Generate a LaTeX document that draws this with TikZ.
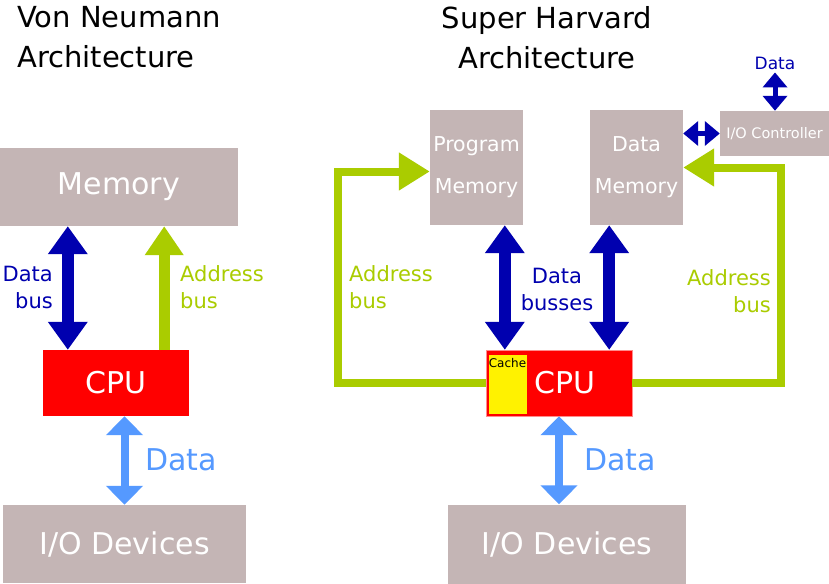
\documentclass[tikz,border=0pt]{standalone}
\usepackage{fontspec}
\setmainfont{DejaVu Sans}
\usetikzlibrary{arrows.meta}

\definecolor{boxgray}{RGB}{196,181,181}
\definecolor{busblue}{RGB}{0,0,175}
\definecolor{busgreen}{RGB}{170,204,0}
\definecolor{iolight}{RGB}{85,153,255}

\begin{document}
\begin{tikzpicture}[x=1pt, y=-1pt,
    title/.style = {inner sep=0pt, font=\fontsize{29}{40}\selectfont},
    box/.style = {fill=boxgray, inner sep=0pt, text=white, font=\fontsize{30}{36}\selectfont},
    smallbox/.style = {box, align=center, font=\fontsize{20.5}{42}\selectfont},
    cpubox/.style = {fill=red, inner sep=0pt, text=white, font=\fontsize{30}{36}\selectfont},
    lbl/.style = {inner sep=0pt, font=\fontsize{21}{27}\selectfont},
    biglbl/.style = {inner sep=0pt, font=\fontsize{30}{36}\selectfont},
    dbus/.style = {busblue, line width=12pt, {Triangle[width=38pt,length=28pt]}-{Triangle[width=38pt,length=28pt]}},
    abus/.style = {busgreen, line width=11pt, -{Triangle[width=37pt,length=29pt]}},
    aroute/.style = {busgreen, line width=8pt, -{Triangle[width=36pt,length=31pt]}},
    iobus/.style = {iolight, line width=8pt, {Triangle[width=36pt,length=19pt]}-{Triangle[width=36pt,length=19pt]}},
    cbus/.style = {busblue, line width=5pt, {Triangle[width=24pt,length=15pt]}-{Triangle[width=24pt,length=15pt]}}]

    \fill[white] (0,0) rectangle (829,583);
    \useasboundingbox (0,0) rectangle (829,583);

    % 1. Titles
    \node[title, anchor=north west, align=left] (vntitle) at (17,6) {Von Neumann\\Architecture};
    \node[title, anchor=north, align=center] (shtitle) at (547,6) {Super Harvard\\Architecture};

    % 2. Von Neumann blocks
    \node[box, minimum width=238, minimum height=78] (mem) at (119,187) {Memory};
    \node[cpubox, minimum width=146, minimum height=66] (cpu) at (116,383) {CPU};
    \node[box, minimum width=243, minimum height=78] (io) at (124.5,544) {I/O Devices};

    % 3. Super Harvard blocks
    \node[smallbox, minimum width=93, minimum height=115] (pmem) at (476.5,167.5) {Program\\Memory};
    \node[smallbox, minimum width=93, minimum height=115] (dmem) at (636.5,167.5) {Data\\Memory};
    \node[box, minimum width=109, minimum height=45, font=\fontsize{14.5}{17}\selectfont] (ioctl) at (774.5,133.5) {I/O Controller};
    \node[cpubox, draw=red!45, minimum width=146, minimum height=66,
          label={[text=white, font=\fontsize{30}{36}\selectfont, xshift=6pt]center:CPU}] (cpu2) at (559,383) {};
    \node[fill=yellow, draw=red, inner sep=0pt, minimum width=39, minimum height=60,
          label={[font=\fontsize{12}{14}\selectfont, anchor=north, yshift=-4pt, inner sep=0pt]north:Cache}] (cache) at (507.5,384) {};
    \node[box, minimum width=238, minimum height=79] (io2) at (567,544) {I/O Devices};

    % 4. Bus labels
    \node[lbl, text=busblue, align=right, anchor=east] (dblbl) at (53,287) {Data\\bus};
    \node[lbl, text=busgreen, align=left, anchor=west] (ablbl) at (180,287) {Address\\bus};
    \node[biglbl, text=iolight, anchor=west] (iolbl) at (145,460) {Data};
    \node[lbl, text=busgreen, align=left, anchor=west] (ablbl2) at (349,287) {Address\\bus};
    \node[lbl, text=busblue, align=center] (dblbl2) at (557,289) {Data\\busses};
    \node[lbl, text=busgreen, align=right, anchor=east] (ablbl3) at (771,291) {Address\\bus};
    \node[biglbl, text=iolight, anchor=west] (iolbl2) at (584,460) {Data};
    \node[inner sep=2pt, text=busblue, font=\fontsize{17}{20}\selectfont, anchor=base] (ctllbl) at (775,70) {Data};

    % 5. Von Neumann buses
    \draw[dbus] ([xshift=25]cpu.north west) -- ([xshift=25]cpu.north west |- mem.south);
    \draw[abus] ([xshift=-25]cpu.north east) -- ([xshift=-25]cpu.north east |- mem.south);
    \draw[iobus] (cpu.south -| io.north) -- (io.north);

    % 6. Super Harvard buses
    \draw[dbus] ([xshift=19]cpu2.north west) -- ([xshift=19]cpu2.north west |- pmem.south);
    \draw[dbus] ([xshift=-23]cpu2.north east) -- ([xshift=-23]cpu2.north east |- dmem.south);
    \draw[aroute] (cpu2.west) -| ([xshift=-92,yshift=-4]pmem.west) |- ([yshift=-4]pmem.west);
    \draw[aroute] (cpu2.east) -| ([xshift=98]dmem.east) |- (dmem.east);
    \draw[iobus] (cpu2.south) -- (cpu2.south |- io2.north);
    \draw[cbus] (ctllbl.south) -- (ctllbl.south |- ioctl.north);
    \draw[cbus] (dmem.east |- ioctl.west) -- (ioctl.west);
\end{tikzpicture}
\end{document}
